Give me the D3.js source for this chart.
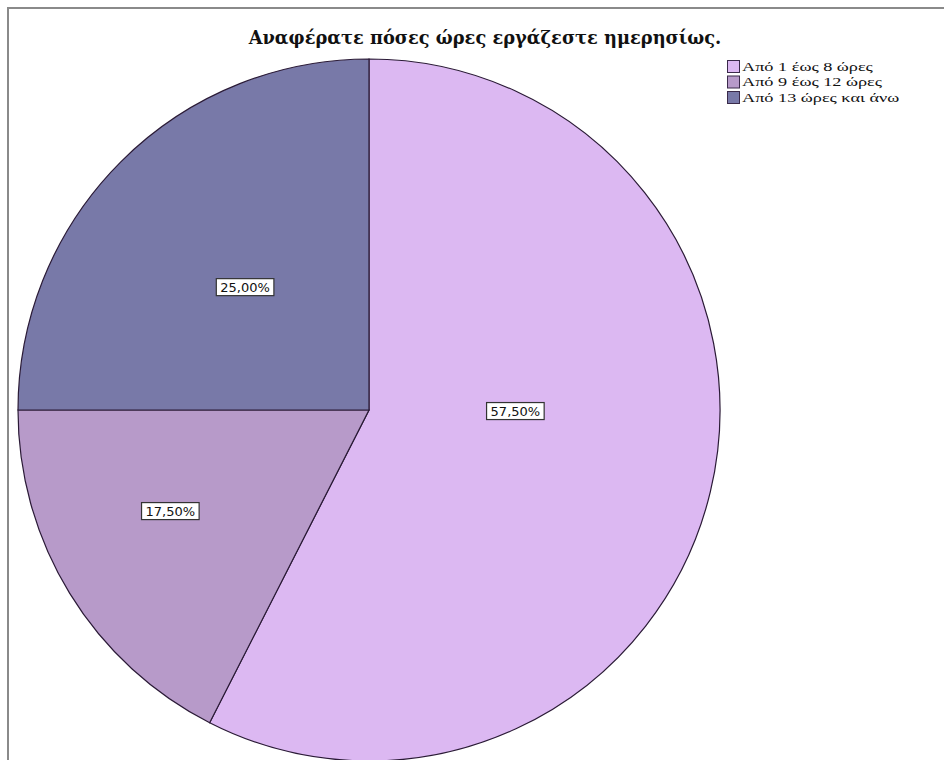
<!DOCTYPE html>
<html>
<head>
<meta charset="utf-8">
<script src="https://cdn.jsdelivr.net/npm/d3@7"></script>
<style>
  html, body { margin: 0; padding: 0; background: #fff; }
  svg { display: block; }
</style>
</head>
<body>
<svg id="chart" width="944" height="760"></svg>
<script>
const title = "Αναφέρατε πόσες ώρες εργάζεστε ημερησίως.";
const categories = ["Από 1 έως 8 ώρες", "Από 9 έως 12 ώρες", "Από 13 ώρες και άνω"];
const values = [57.5, 17.5, 25.0];
const labels = ["57,50%", "17,50%", "25,00%"];
const colors = ["#dcb8f2", "#b79ac9", "#7879a8"];

const svg = d3.select("#chart");
const W = 944, H = 760;

// frame
svg.append("rect").attr("x", 8).attr("y", 8).attr("width", W + 20).attr("height", H + 20)
  .attr("fill", "none").attr("stroke", "#8a8a8a").attr("stroke-width", 2);

// fit helper: scale font size so text reaches a target width
function fitText(sel, targetW) {
  const w = sel.node().getBBox().width;
  const fs = parseFloat(sel.attr("font-size"));
  sel.attr("font-size", fs * targetW / w);
}

// title
const tt = svg.append("text").attr("x", 485).attr("y", 44)
  .attr("text-anchor", "middle")
  .attr("font-family", "'DejaVu Serif', 'Liberation Serif', serif")
  .attr("font-weight", "bold").attr("font-size", 17)
  .attr("fill", "#111").text(title);
fitText(tt, 474);

const cx = 369, cy = 410, R = 351;
const g = svg.append("g").attr("transform", `translate(${cx},${cy})`);

const pie = d3.pie().sort(null).value(d => d)(values);
const arc = d3.arc().innerRadius(0).outerRadius(R);

g.selectAll("path").data(pie).join("path")
  .attr("d", arc)
  .attr("fill", (d, i) => colors[i])
  .attr("stroke", "#2a1a36").attr("stroke-width", 1.2);

// label placement relative to radius (SPSS-style placement)
const labelOffsets = [[0.417, 0.003], [-0.566, 0.288], [-0.353, -0.35]];
pie.forEach((d, i) => {
  const x = labelOffsets[i][0] * R, y = labelOffsets[i][1] * R;
  const lg = g.append("g").attr("transform", `translate(${x},${y})`);
  const t = lg.append("text").attr("text-anchor", "middle").attr("dy", "0.36em")
    .attr("font-family", "'DejaVu Sans', Verdana, sans-serif").attr("font-size", 13)
    .attr("fill", "#111").text(labels[i]);
  const bb = t.node().getBBox();
  lg.insert("rect", "text")
    .attr("x", bb.x - 4).attr("y", -8.5)
    .attr("width", bb.width + 8).attr("height", 17)
    .attr("fill", "#fff").attr("stroke", "#333").attr("stroke-width", 1.2);
});

// legend
const leg = svg.append("g").attr("transform", "translate(727,60)");
const legTextG = leg.append("g").attr("transform", "translate(15,0)");
categories.forEach((c, i) => {
  leg.append("rect").attr("x", 0.5).attr("y", 0.5 + i * 15.5).attr("width", 12).attr("height", 12)
    .attr("fill", colors[i]).attr("stroke", "#3a2a4a").attr("stroke-width", 1);
  legTextG.append("text").attr("x", 0).attr("y", 11 + i * 15.5)
    .attr("font-family", "'Liberation Serif', 'DejaVu Serif', serif").attr("font-size", 13)
    .attr("fill", "#111").text(c);
});
// stretch horizontally so the longest entry matches the reference width
const lw = legTextG.node().getBBox().width;
legTextG.attr("transform", `translate(15,0) scale(${158 / lw},1)`);
</script>
</body>
</html>
